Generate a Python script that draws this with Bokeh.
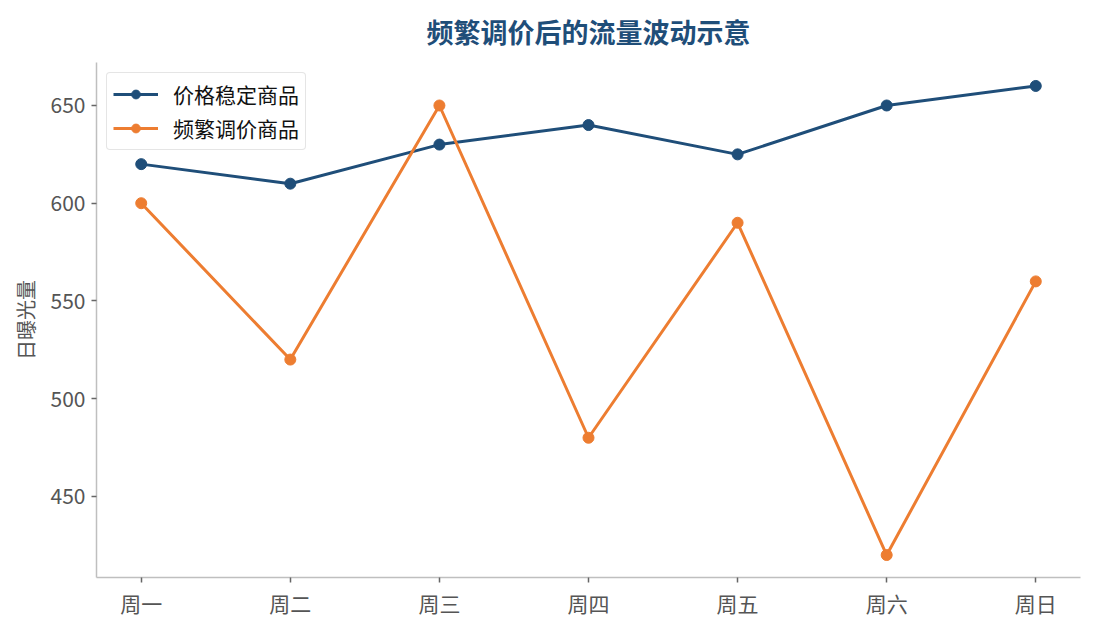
from bokeh.plotting import figure
from bokeh.models import FixedTicker, Range1d
from bokeh.embed import file_html
from bokeh.resources import INLINE

days = ["周一", "周二", "周三", "周四", "周五", "周六", "周日"]
stable = [620, 610, 630, 640, 625, 650, 660]
frequent = [600, 520, 650, 480, 590, 420, 560]
y_ticks = [450, 500, 550, 600, 650]

FONT = "Noto Sans CJK SC"
BLUE = "#1f4e79"
ORANGE = "#ed7d31"

x = list(range(len(days)))

p = figure(width=1087, height=622,
           output_backend="svg", toolbar_location=None,
           x_range=Range1d(-0.3, len(days) - 0.7),
           y_range=Range1d(408.5, 672),
           min_border_left=96, min_border_right=7,
           min_border_top=62, min_border_bottom=45)

p.title.text = "频繁调价后的流量波动示意"
p.title.align = "center"
p.title.vertical_align = "top"
p.title.text_font = FONT
p.title.text_font_size = "27px"
p.title.text_font_style = "bold"
p.title.text_color = BLUE
p.title.standoff = 20

p.line(x, stable, line_color=BLUE, line_width=3, legend_label="价格稳定商品")
p.scatter(x, stable, size=11, fill_color=BLUE, line_color=BLUE, legend_label="价格稳定商品")
p.line(x, frequent, line_color=ORANGE, line_width=3, legend_label="频繁调价商品")
p.scatter(x, frequent, size=11, fill_color=ORANGE, line_color=ORANGE, legend_label="频繁调价商品")

p.xgrid.visible = False
p.ygrid.visible = False
p.outline_line_color = None

p.xaxis.ticker = FixedTicker(ticks=x)
p.xaxis.major_label_overrides = {i: d for i, d in enumerate(days)}
p.yaxis.ticker = FixedTicker(ticks=y_ticks)
p.yaxis.axis_label = "日曝光量"

for ax in (p.xaxis[0], p.yaxis[0]):
    ax.axis_line_color = "#bfbfbf"
    ax.axis_line_width = 1.5
    ax.major_tick_line_color = "#666666"
    ax.major_tick_line_width = 1.5
    ax.major_tick_in = 0
    ax.major_tick_out = 5
    ax.minor_tick_line_color = None
    ax.major_label_text_font = FONT
    ax.major_label_text_font_size = "21px"
    ax.major_label_text_color = "#555555"
    ax.axis_label_text_font = FONT
    ax.axis_label_text_font_size = "20px"
    ax.axis_label_text_font_style = "normal"
    ax.axis_label_text_color = "#555555"
p.yaxis.axis_label_standoff = 8
p.yaxis.major_label_standoff = 6

p.legend.location = "top_left"
p.legend.label_text_font = FONT
p.legend.label_text_font_size = "21px"
p.legend.label_text_color = "#111111"
p.legend.border_line_color = "#cccccc"
p.legend.border_line_width = 1.5
p.legend.border_radius = 4
p.legend.glyph_width = 45
p.legend.glyph_height = 22
p.legend.label_height = 22
p.legend.spacing = 4
p.legend.padding = 6
p.legend.margin = 10
p.legend.label_standoff = 15

open("out.html", "w").write(file_html(p, INLINE))
